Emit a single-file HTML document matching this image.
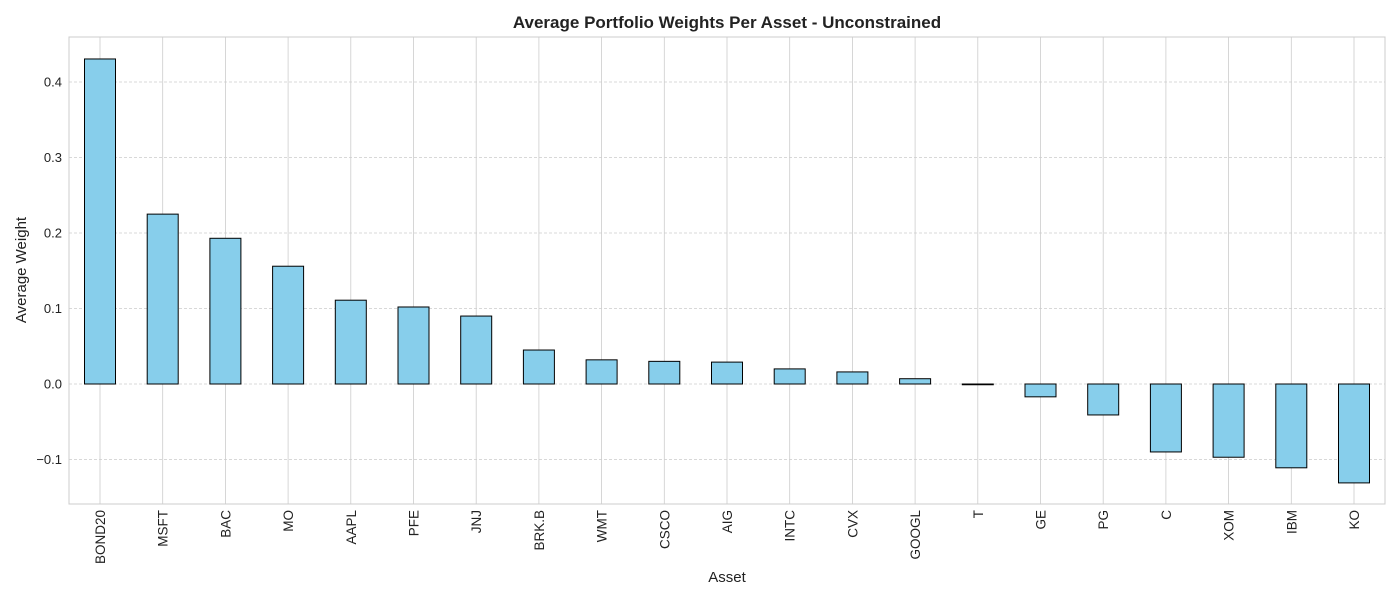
<!DOCTYPE html>
<html><head><meta charset="utf-8"><style>
body{margin:0;background:#fff;}
svg{display:block;font-family:"Liberation Sans","DejaVu Sans",sans-serif;}
</style></head><body>
<svg id="chart" width="1400" height="600" xmlns="http://www.w3.org/2000/svg">
<rect width="1400" height="600" fill="#fff"/>
<text x="727" y="28" text-anchor="middle" font-size="17" font-weight="bold" fill="#222">Average Portfolio Weights Per Asset - Unconstrained</text>
<g id="grid"></g><g id="bars"></g><g id="ticks"></g>
<rect x="69" y="37" width="1316" height="467" fill="none" stroke="#ccc" stroke-width="1"/>
<text x="727" y="582" text-anchor="middle" font-size="15" fill="#222">Asset</text>
<text transform="translate(26,270) rotate(-90)" text-anchor="middle" font-size="15" fill="#222">Average Weight</text>
</svg>
<script>
const categories=["BOND20","MSFT","BAC","MO","AAPL","PFE","JNJ","BRK.B","WMT","CSCO","AIG","INTC","CVX","GOOGL","T","GE","PG","C","XOM","IBM","KO"];
const weights=[0.4305,0.225,0.193,0.156,0.111,0.102,0.090,0.045,0.032,0.030,0.029,0.020,0.016,0.007,-0.001,-0.017,-0.041,-0.090,-0.097,-0.111,-0.131];
const yTicks=[-0.1,0.0,0.1,0.2,0.3,0.4];
const yTickLabels=["\u22120.1","0.0","0.1","0.2","0.3","0.4"];
const NS="http://www.w3.org/2000/svg";
const L=69,R=1385,T=37,B=504;
function y(v){return 384-v*755;}
function x(i){return 100+i*(1354-100)/(categories.length-1);}
const grid=document.getElementById('grid'),bars=document.getElementById('bars'),ticks=document.getElementById('ticks');
function mk(tag,attrs,parent){const e=document.createElementNS(NS,tag);for(const k in attrs)e.setAttribute(k,attrs[k]);parent.appendChild(e);return e;}
yTicks.forEach((v,i)=>{
 const g=mk('line',{x1:L,x2:R,y1:y(v),y2:y(v),stroke:'#ccc','stroke-width':0.8,'stroke-dasharray':'3,2'},grid);
 
 
 const t=mk('text',{x:L-7,y:y(v)+4.5,'text-anchor':'end','font-size':13,fill:'#222'},ticks);
 t.textContent=yTickLabels[i];
 
 
});
categories.forEach((c,i)=>{
 const g=mk('line',{x1:x(i),x2:x(i),y1:T,y2:B,stroke:'#ccc','stroke-width':0.8},grid);
 
 
 const v=weights[i];const y0=y(0),y1=y(v);
 const b=mk('rect',{x:x(i)-15.5,y:Math.min(y0,y1),width:31,height:Math.max(Math.abs(y1-y0),0.5),fill:'#87ceeb',stroke:'#000','stroke-width':1},bars);
 
 
 const t=mk('text',{transform:`translate(${x(i)+5},510) rotate(-90)`,'text-anchor':'end','font-size':13.5,fill:'#222'},ticks);
 t.textContent=c;
 
 
});
</script>
</body></html>
